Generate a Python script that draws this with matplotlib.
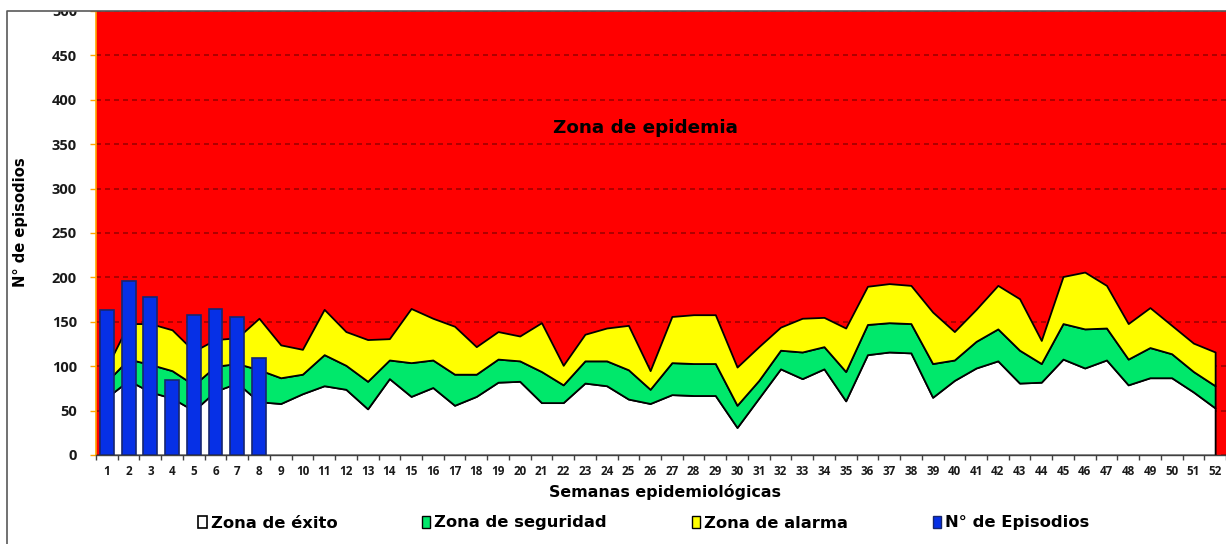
import matplotlib
matplotlib.use("Agg")
import matplotlib.pyplot as plt
from matplotlib.lines import Line2D
from matplotlib.patches import Patch, Rectangle

# ---------------- data ----------------
weeks = list(range(1, 53))
exito = [65, 84, 71, 64, 50, 72, 81, 60, 58, 69,
         78, 74, 52, 86, 66, 76, 56, 66, 82, 83,
         59, 59, 81, 78, 63, 58, 68, 67, 67, 31,
         64, 97, 86, 97, 61, 113, 116, 115, 65, 84,
         98, 106, 81, 82, 108, 98, 107, 79, 87, 87,
         71, 53]
seguridad = [83, 108, 102, 95, 79, 100, 103, 96, 87, 91,
             113, 101, 83, 107, 104, 107, 91, 91, 108, 106,
             94, 79, 106, 106, 96, 74, 104, 103, 103, 56,
             84, 118, 116, 122, 94, 147, 149, 148, 103, 107,
             128, 142, 118, 103, 148, 142, 143, 108, 121, 114,
             94, 78]
alarma = [99, 148, 148, 141, 117, 130, 132, 154, 124, 119,
          164, 139, 130, 131, 165, 154, 145, 122, 139, 134,
          149, 101, 136, 143, 146, 95, 156, 158, 158, 99,
          122, 144, 154, 155, 143, 190, 193, 191, 161, 139,
          164, 191, 176, 129, 201, 206, 191, 148, 166, 146,
          126, 116]
ep_weeks = [1, 2, 3, 4, 5, 6, 7, 8]
episodios = [163, 196, 178, 85, 158, 164, 155, 109]

legend_labels = ["Zona de éxito", "Zona de seguridad", "Zona de alarma", "N° de Episodios"]

# ---------------- style ----------------
RED = "#FF0000"
GREEN = "#00E86B"
YELLOW = "#FFFF00"
BLUE = "#0630E6"
BLUE_EDGE = "#17266E"
ORANGE = "#FFA500"

plt.rcParams["font.family"] = ["DejaVu Sans"]
plt.rcParams["font.weight"] = "bold"

W, H = 1226, 544
fig = plt.figure(figsize=(W / 100, H / 100), dpi=100)
ax = fig.add_axes([96 / W, (H - 455) / H, (W - 96) / W, 444 / H])
ax.set_facecolor(RED)
ax.set_xlim(0.5, 0.5 + (W - 96) / 21.8)
ax.set_ylim(0, 500)

lw = 1.3
ax.fill_between(weeks, 0, exito, facecolor="white", edgecolor="black", linewidth=lw, zorder=2)
ax.fill_between(weeks, exito, seguridad, facecolor=GREEN, edgecolor="black", linewidth=lw, zorder=2)
ax.fill_between(weeks, seguridad, alarma, facecolor=YELLOW, edgecolor="black", linewidth=lw, zorder=2)

ax.bar(ep_weeks, episodios, width=0.64, color=BLUE, edgecolor=BLUE_EDGE, linewidth=1.2, zorder=3)

# grid
ax.set_yticks(range(0, 501, 50))
ax.yaxis.grid(True, color="#A00000", linestyle=(0, (3, 2.4)), linewidth=1.2)
ax.set_axisbelow(True)

# x ticks: labels at centers, tick marks at boundaries
ax.set_xticks(weeks)
ax.set_xticks([w + 0.5 for w in range(0, 53)], minor=True)
ax.tick_params(axis="x", which="major", length=0, pad=7, labelsize=8.4)
ax.tick_params(axis="x", which="minor", length=3.5, width=1, color="#404040", direction="out")
ax.tick_params(axis="y", which="major", length=4.3, width=1, color=ORANGE, direction="out",
               pad=9.4, labelsize=10.5)
for lbl in ax.get_xticklabels() + ax.get_yticklabels():
    lbl.set_family("Open Sans")
    lbl.set_weight("bold")
    lbl.set_color("#1a1a1a")

for s in ("top", "right"):
    ax.spines[s].set_visible(False)
ax.spines["left"].set_color(ORANGE)
ax.spines["left"].set_linewidth(1.2)
ax.spines["bottom"].set_color("#404040")
ax.spines["bottom"].set_linewidth(1.0)

ax.text(25.8, 368, "Zona de epidemia", ha="center", va="center", fontsize=13.2,
        fontweight="bold", color="black", zorder=4)

fig.text(21 / W, 1 - 222 / H, "N° de episodios", rotation=90, ha="center", va="center",
         fontsize=10.6, fontweight="bold")
fig.text(665 / W, 1 - 492 / H, "Semanas epidemiológicas", ha="center", va="center",
         fontsize=11.4, fontweight="bold")

handles = [Patch(facecolor="white", edgecolor="black", linewidth=1.2),
           Patch(facecolor=GREEN, edgecolor="black", linewidth=1.0),
           Patch(facecolor=YELLOW, edgecolor="black", linewidth=1.0),
           Patch(facecolor=BLUE, edgecolor=BLUE_EDGE, linewidth=1.0)]
fig.legend(handles, legend_labels, loc="center", bbox_to_anchor=(644 / W, 1 - 523 / H),
           ncol=4, frameon=False, fontsize=11.8, handlelength=0.5, handleheight=0.7,
           handletextpad=0.25, columnspacing=5.18)

# chart border (top part cropped like the original)
fig.add_artist(Rectangle((0, 1 - 11 / H), 1, 11 / H, transform=fig.transFigure,
                         facecolor="white", edgecolor="none", zorder=10))
fig.add_artist(Line2D([6.5 / W, 6.5 / W, 1], [0, 1 - 11 / H, 1 - 11 / H],
                      transform=fig.transFigure, color="#595959", linewidth=1.2, zorder=11))

fig.savefig("out.png", dpi=100)
